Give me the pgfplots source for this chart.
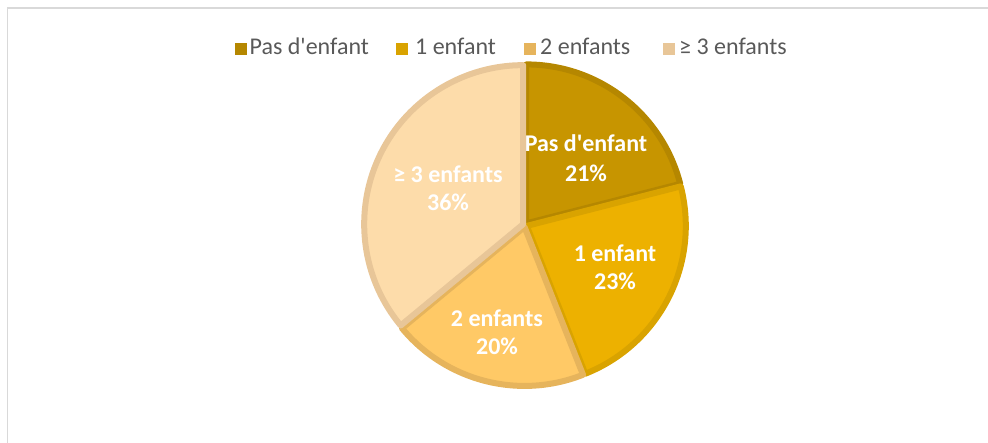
\documentclass[border=0pt]{standalone}
\usepackage{pgfplots}
\pgfplotsset{compat=1.18}
\usepackage{pgfplotstable}
\usepackage{fontspec}
\setmainfont{Carlito}

\definecolor{c1fill}{HTML}{C79500}
\definecolor{c1line}{HTML}{B58700}
\definecolor{c2fill}{HTML}{EDB100}
\definecolor{c2line}{HTML}{D9A300}
\definecolor{c3fill}{HTML}{FFC966}
\definecolor{c3line}{HTML}{E6B45C}
\definecolor{c4fill}{HTML}{FDDCAA}
\definecolor{c4line}{HTML}{E8C698}
\definecolor{legtext}{HTML}{595959}
\definecolor{framecol}{HTML}{D9D9D9}

% share of households (percent), clockwise from 12 o'clock
\pgfplotstableread{
idx share
0 21
1 23
2 20
3 36
}\piedata

\begin{document}
\begin{tikzpicture}
\pgfplotstablegetelem{0}{share}\of\piedata \let\sA\pgfplotsretval
\pgfplotstablegetelem{1}{share}\of\piedata \let\sB\pgfplotsretval
\pgfplotstablegetelem{2}{share}\of\piedata \let\sC\pgfplotsretval
\pgfplotstablegetelem{3}{share}\of\piedata \let\sD\pgfplotsretval
\pgfmathsetmacro\aA{90}
\pgfmathsetmacro\aB{\aA-3.6*\sA}
\pgfmathsetmacro\aC{\aB-3.6*\sB}
\pgfmathsetmacro\aD{\aC-3.6*\sC}
\pgfmathsetmacro\aE{\aD-3.6*\sD}
\pgfmathsetmacro\mA{(\aA+\aB)/2}
\pgfmathsetmacro\mB{(\aB+\aC)/2}
\pgfmathsetmacro\mC{(\aC+\aD)/2}
\pgfmathsetmacro\mD{(\aD+\aE)/2}
\begin{axis}[
  at={(0pt,0pt)}, anchor=south west,
  scale only axis, width=988pt, height=443pt,
  xmin=0, xmax=988, ymin=0, ymax=443,
  hide axis, clip=false,
]
% chart frame
\draw[framecol, line width=1.5pt] (axis cs:7.5,0) -- (axis cs:7.5,435) -- (axis cs:988,435);

\tikzset{slice/.style={line width=6pt, line join=round}}
\filldraw[slice, fill=c1fill, draw=c1line, shift={(\mA:2pt)}]
  (axis cs:525,218) -- ++(\aA:159pt) arc[start angle=\aA, end angle=\aB, radius=159pt] -- cycle;
\filldraw[slice, fill=c2fill, draw=c2line, shift={(\mB:2pt)}]
  (axis cs:525,218) -- ++(\aB:159pt) arc[start angle=\aB, end angle=\aC, radius=159pt] -- cycle;
\filldraw[slice, fill=c3fill, draw=c3line, shift={(\mC:2pt)}]
  (axis cs:525,218) -- ++(\aC:159pt) arc[start angle=\aC, end angle=\aD, radius=159pt] -- cycle;
\filldraw[slice, fill=c4fill, draw=c4line, shift={(\mD:2pt)}]
  (axis cs:525,218) -- ++(\aD:159pt) arc[start angle=\aD, end angle=\aE, radius=159pt] -- cycle;

% data labels
\tikzset{dl/.style={text=white, font=\fontsize{24}{29}\selectfont\bfseries, inner sep=0pt, anchor=base}}
\node[dl] at (axis cs:586,291) {Pas d\textquotesingle enfant};
\node[dl] at (axis cs:586,261) {\sA\%};
\node[dl] at (axis cs:615,181) {1 enfant};
\node[dl] at (axis cs:615,153) {\sB\%};
\node[dl] at (axis cs:497,116) {2 enfants};
\node[dl] at (axis cs:497,88) {\sC\%};
\node[dl] at (axis cs:448,260) {≥ 3 enfants};
\node[dl] at (axis cs:448,232) {\sD\%};

% legend
\tikzset{lt/.style={text=legtext, font=\fontsize{24}{29}\selectfont, inner sep=0pt, anchor=base west}}
\fill[c1line] (axis cs:235,388) rectangle (axis cs:246.5,399.5);
\node[lt] at (axis cs:249.5,388) {Pas d\textquotesingle enfant};
\fill[c2line] (axis cs:396,388) rectangle (axis cs:407.5,399.5);
\node[lt] at (axis cs:415,388) {1 enfant};
\fill[c3line] (axis cs:524,388) rectangle (axis cs:535.5,399.5);
\node[lt] at (axis cs:540,388) {2 enfants};
\fill[c4line] (axis cs:663,388) rectangle (axis cs:674.5,399.5);
\node[lt] at (axis cs:679,388) {≥ 3 enfants};
\end{axis}
\pgfresetboundingbox
\path[use as bounding box] (0pt,0pt) rectangle (988pt,443pt);
\end{tikzpicture}
\end{document}
